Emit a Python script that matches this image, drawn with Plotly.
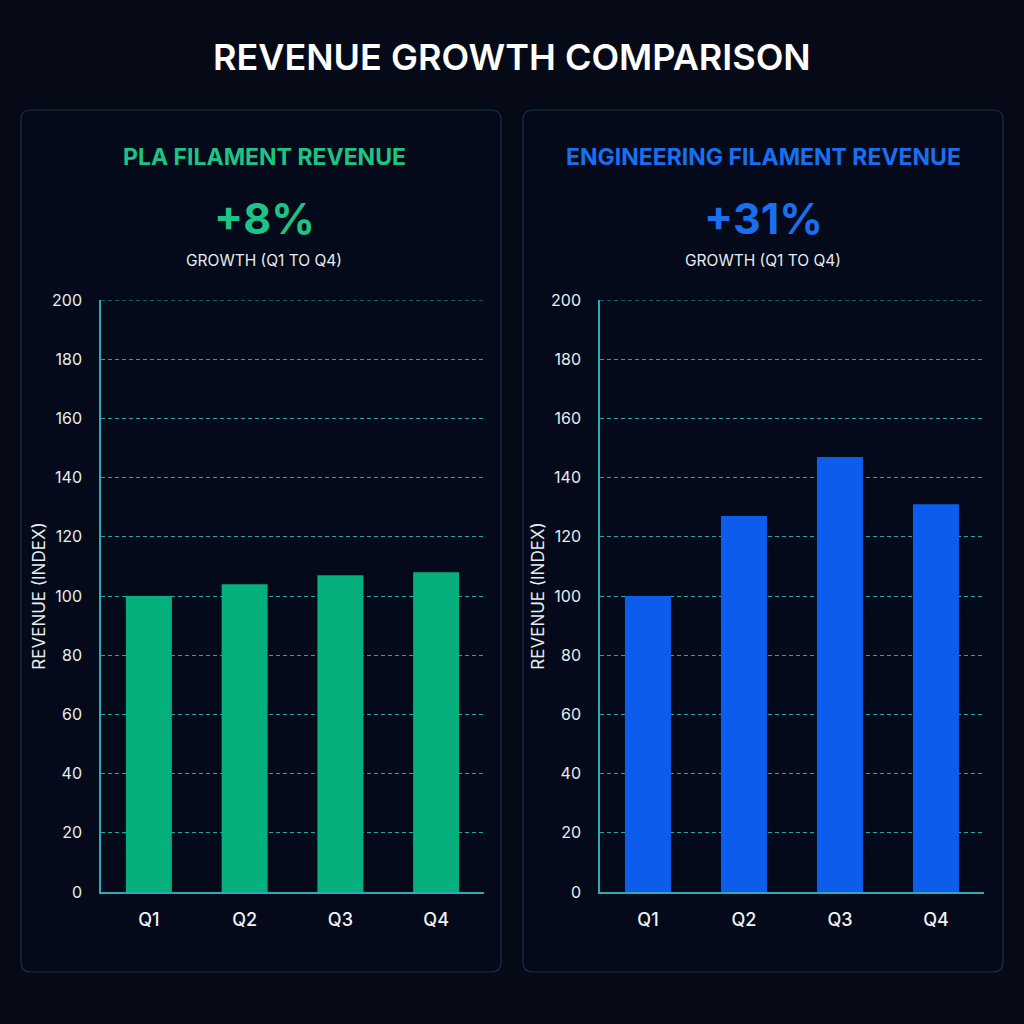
import plotly.graph_objects as go

quarters = ["Q1", "Q2", "Q3", "Q4"]
pla_revenue = [100, 104, 107, 108]
eng_revenue = [100, 127, 147, 131]
y_ticks = [0, 20, 40, 60, 80, 100, 120, 140, 160, 180, 200]

title_text = "REVENUE GROWTH COMPARISON"
panel_titles = ["PLA FILAMENT REVENUE", "ENGINEERING FILAMENT REVENUE"]
growth_labels = ["+8%", "+31%"]
growth_sub = "GROWTH (Q1 TO Q4)"
y_title = "REVENUE (INDEX)"

GREEN = "#05b07c"
BLUE = "#0d5ceb"
GREEN_TXT = "#1ec486"
BLUE_TXT = "#1a6ff0"
BG = "#050a16"
PANEL_BG = "#040a19"
PANEL_BORDER = "#1b2d48"
AXIS = "#2aabb5"
GRID = "#22a6a3"
FONT = "Inter"

W = H = 1024

def px(x):
    return x / W

def py(y):
    return 1 - y / H

def rounded_rect(x0, y0, x1, y1, r):
    pts = [
        f"M {px(x0 + r)},{py(y0)}",
        f"L {px(x1 - r)},{py(y0)}",
        f"Q {px(x1)},{py(y0)} {px(x1)},{py(y0 + r)}",
        f"L {px(x1)},{py(y1 - r)}",
        f"Q {px(x1)},{py(y1)} {px(x1 - r)},{py(y1)}",
        f"L {px(x0 + r)},{py(y1)}",
        f"Q {px(x0)},{py(y1)} {px(x0)},{py(y1 - r)}",
        f"L {px(x0)},{py(y0 + r)}",
        f"Q {px(x0)},{py(y0)} {px(x0 + r)},{py(y0)}",
        "Z",
    ]
    return " ".join(pts)

fig = go.Figure()

fig.add_trace(go.Bar(x=quarters, y=pla_revenue, marker=dict(color=GREEN, line=dict(width=0)),
                     width=0.48, xaxis="x", yaxis="y", hoverinfo="x+y"))
fig.add_trace(go.Bar(x=quarters, y=eng_revenue, marker=dict(color=BLUE, line=dict(width=0)),
                     width=0.48, xaxis="x2", yaxis="y2", hoverinfo="x+y"))

shapes = []
for (x0, x1) in [(21, 501), (523, 1003)]:
    shapes.append(dict(type="path", xref="paper", yref="paper",
                       path=rounded_rect(x0, 110, x1, 972, 10),
                       fillcolor=PANEL_BG, line=dict(color=PANEL_BORDER, width=1.2),
                       layer="below"))
# top gridline at the maximum tick (plotly hides the edge gridline)
for xr, yr in [("x domain", "y"), ("x2 domain", "y2")]:
    shapes.append(dict(type="line", xref=xr, yref=yr, x0=0, x1=1,
                       y0=y_ticks[-1], y1=y_ticks[-1],
                       line=dict(color=GRID, width=1, dash="4px,3px"), layer="below"))

annotations = [
    dict(text=title_text, x=0.5, y=py(57), xref="paper", yref="paper",
         showarrow=False, font=dict(family=FONT, size=36, color="#ffffff", weight=600),
         xanchor="center", yanchor="middle"),
]
centers = [(21 + 501) / 2 + 3, (523 + 1003) / 2]
colors_txt = [GREEN_TXT, BLUE_TXT]
for i in range(2):
    annotations += [
        dict(text=f"<b>{panel_titles[i]}</b>", x=px(centers[i]), y=py(157), xref="paper", yref="paper",
             showarrow=False, font=dict(family=FONT, size=23, color=colors_txt[i]),
             xanchor="center", yanchor="middle"),
        dict(text=f"<b>{growth_labels[i]}</b>", x=px(centers[i]), y=py(218), xref="paper", yref="paper",
             showarrow=False, font=dict(family=FONT, size=43, color=colors_txt[i]),
             xanchor="center", yanchor="middle"),
        dict(text=growth_sub, x=px(centers[i]), y=py(260), xref="paper", yref="paper",
             showarrow=False, font=dict(family=FONT, size=15.5, color="#e8ecf2"),
             xanchor="center", yanchor="middle"),
    ]

xcommon = dict(showgrid=False, showline=True, linecolor=AXIS, linewidth=1.5,
               tickfont=dict(family=FONT, size=18, color="#f0f2f5", weight=500),
               ticks="", ticklabelstandoff=11, fixedrange=True, zeroline=False,
               automargin=False)
ycommon = dict(range=[0, 200], tickvals=y_ticks, showgrid=True, gridcolor=GRID,
               griddash="4px,3px", gridwidth=1, showline=True, linecolor=AXIS, linewidth=1.5,
               tickfont=dict(family=FONT, size=16, color="#e8ecf2"), ticks="",
               ticklabelstandoff=14, zeroline=False, fixedrange=True, automargin=False,
               title=dict(text=y_title, font=dict(family=FONT, size=17, color="#e8ecf2"), standoff=2))

fig.update_layout(
    template="none",
    width=W, height=H, margin=dict(l=0, r=0, t=0, b=0, pad=0, autoexpand=False),
    paper_bgcolor=BG, plot_bgcolor="rgba(0,0,0,0)",
    showlegend=False, shapes=shapes, annotations=annotations,
    xaxis=dict(domain=[px(101), px(484)], anchor="y", **xcommon),
    yaxis=dict(domain=[py(892), py(300)], anchor="x", **ycommon),
    xaxis2=dict(domain=[px(600), px(984)], anchor="y2", **xcommon),
    yaxis2=dict(domain=[py(892), py(300)], anchor="x2", **ycommon),
    font=dict(family=FONT),
)

fig.write_html("out.html")
